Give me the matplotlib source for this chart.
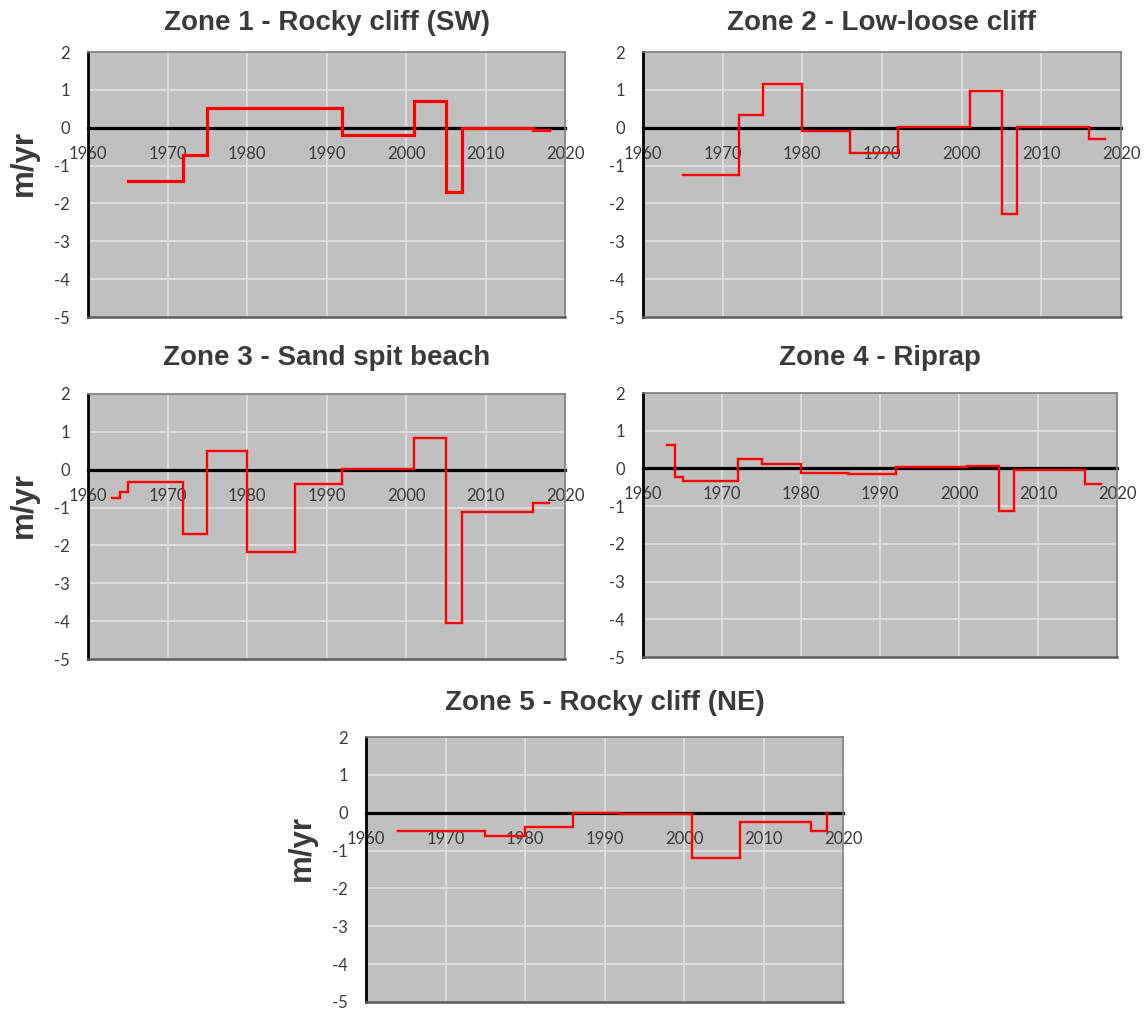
import matplotlib
matplotlib.use("Agg")
import matplotlib.pyplot as plt
import numpy as np

# ---- data ----
titles = ["Zone 1 - Rocky cliff (SW)", "Zone 2 - Low-loose cliff",
          "Zone 3 - Sand spit beach", "Zone 4 - Riprap", "Zone 5 - Rocky cliff (NE)"]

z1_years = [1965, 1972, 1975, 1992, 2001, 2005, 2007, 2016, 2018]
z1_rates = [-1.40, -0.72, 0.51, -0.19, 0.70, -1.70, 0.00, -0.07]

z2_years = [1965, 1972, 1975, 1980, 1986, 1992, 2001, 2005, 2007, 2016, 2018]
z2_rates = [-1.26, 0.34, 1.15, -0.09, -0.66, 0.01, 0.98, -2.29, 0.01, -0.30]

z3_years = [1963, 1964, 1965, 1972, 1975, 1980, 1986, 1992, 2001, 2005, 2007, 2016, 2018]
z3_rates = [-0.75, -0.59, -0.33, -1.70, 0.50, -2.17, -0.39, 0.01, 0.85, -4.05, -1.12, -0.88]

z4_years = [1963, 1964, 1965, 1972, 1975, 1980, 1986, 1992, 2001, 2005, 2007, 2016, 2018]
z4_rates = [0.63, -0.24, -0.33, 0.26, 0.12, -0.11, -0.14, 0.04, 0.06, -1.13, -0.05, -0.41]

z5_years = [1964, 1975, 1980, 1986, 1992, 2001, 2007, 2016, 2018]
z5_rates = [-0.49, -0.62, -0.39, 0.00, -0.03, -1.20, -0.24, -0.47]
z5_end = 0.0

zones = [(z1_years, z1_rates, None), (z2_years, z2_rates, None),
         (z3_years, z3_rates, None), (z4_years, z4_rates, None),
         (z5_years, z5_rates, z5_end)]

xticks = [1960, 1970, 1980, 1990, 2000, 2010, 2020]
yticks = [2, 1, 0, -1, -2, -3, -4, -5]

# ---- layout (pixels) ----
W, H = 1145, 1009
fig = plt.figure(figsize=(W / 100, H / 100), dpi=100)

boxes = [(88, 52, 565, 317), (643, 52, 1121, 317),
         (88, 394, 565, 659), (643, 393, 1117, 657),
         (366, 737, 843, 1002)]
title_y = [23, 23, 358, 358, 703]
ylabel_on = [True, False, True, False, True]
line_w = [2.3, 1.7, 1.7, 1.7, 1.7]

TXT = "#3a3a3a"
BG = "#c0c0c0"
GRID = "#dedede"
tick_font = "Lato"

for i, ((yrs, rates, end), (l, t, r, b)) in enumerate(zip(zones, boxes)):
    ax = fig.add_axes([l / W, 1 - b / H, (r - l) / W, (b - t) / H])
    ax.set_facecolor(BG)
    ax.set_xlim(1960, 2020)
    ax.set_ylim(-5, 2)
    ax.set_xticks(xticks)
    ax.set_yticks(yticks)
    ax.grid(True, color=GRID, lw=1.3, zorder=0)
    ax.set_axisbelow(True)
    # x axis crossing at zero
    ax.spines["bottom"].set_position(("data", 0))
    ax.spines["bottom"].set_color("black")
    ax.spines["bottom"].set_linewidth(2.3)
    ax.spines["bottom"].set_zorder(2)
    ax.spines["left"].set_color("black")
    ax.spines["left"].set_linewidth(2.0)
    for s in ("top", "right"):
        ax.spines[s].set_color("#7a7a7a")
        ax.spines[s].set_linewidth(1.2)
    ax.axhline(-5, color="#5a5a5a", lw=1.8, zorder=3, clip_on=False)
    ax.tick_params(axis="both", length=0, colors=TXT)
    ax.tick_params(axis="x", pad=13)
    ax.tick_params(axis="y", pad=13)
    ax.set_xticklabels([str(x) for x in xticks], fontsize=12, family=tick_font, color=TXT)
    ax.set_yticklabels([str(y) for y in yticks], fontsize=12, family=tick_font, color=TXT)
    # step path
    xs, ys = [], []
    for k, v in enumerate(rates):
        xs += [yrs[k], yrs[k + 1]]
        ys += [v, v]
    if end is not None:
        xs.append(yrs[-1])
        ys.append(end)
    ax.plot(xs, ys, color="#ff0000", lw=line_w[i], zorder=4, solid_joinstyle="miter")
    if ylabel_on[i]:
        ax.text(-64 / (r - l), 0.58, "m/yr", transform=ax.transAxes, rotation=90,
                ha="center", va="center", fontsize=22.5, fontweight="bold",
                family="Liberation Sans", color=TXT)
    fig.text((l + r) / 2 / W, 1 - title_y[i] / H, titles[i], ha="center", va="center",
             fontsize=20, fontweight="bold", family="Liberation Sans", color=TXT)

fig.savefig("out.png", dpi=100, facecolor="white")
